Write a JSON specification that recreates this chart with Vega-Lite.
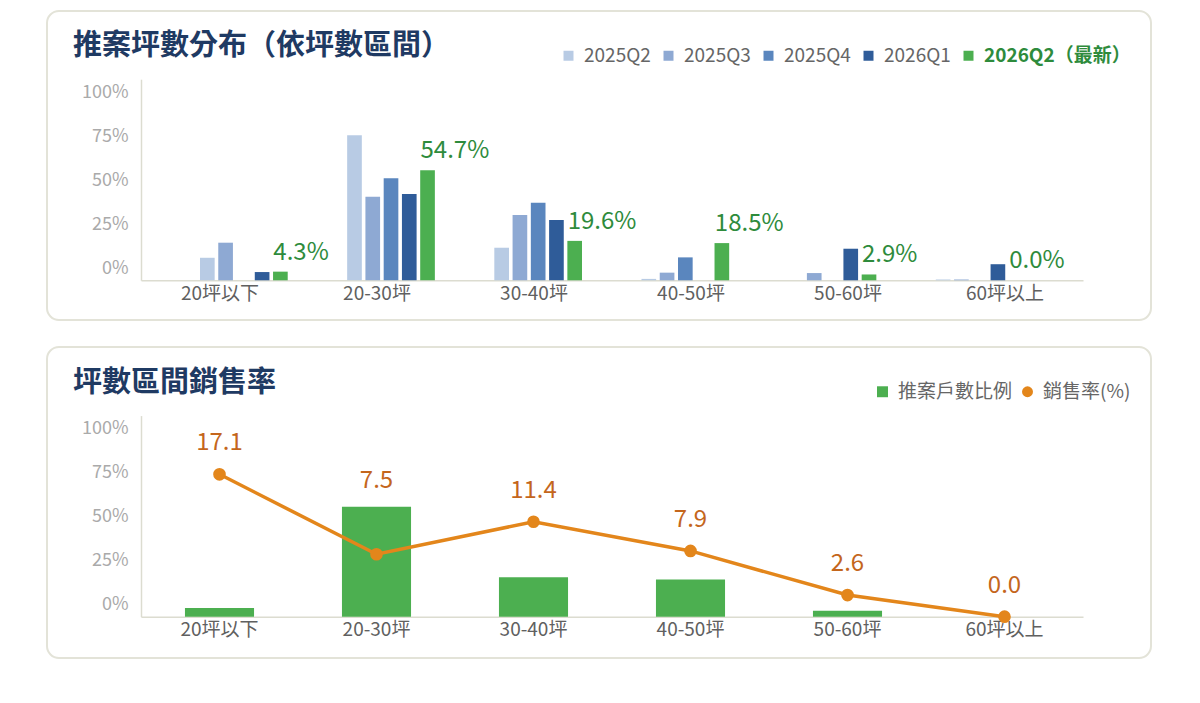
{
  "$schema": "https://vega.github.io/schema/vega-lite/v6.json",
  "background": "white",
  "padding": {"left": 46, "top": 10, "right": 0, "bottom": 0},
  "spacing": 25,
  "config": {
    "font": "Noto Sans CJK TC",
    "view": {"stroke": "#e3e3d8", "strokeWidth": 2, "cornerRadius": 12, "fill": "white"}
  },
  "resolve": {"scale": {"color": "independent"}, "legend": {"color": "independent"}},
  "datasets": {
    "dist": [
      {"cat": "20坪以下", "series": "2025Q2", "value": 0.112},
      {"cat": "20坪以下", "series": "2025Q3", "value": 0.187},
      {"cat": "20坪以下", "series": "2025Q4", "value": 0.0},
      {"cat": "20坪以下", "series": "2026Q1", "value": 0.041},
      {"cat": "20坪以下", "series": "2026Q2（最新）", "value": 0.043},
      {"cat": "20-30坪", "series": "2025Q2", "value": 0.721},
      {"cat": "20-30坪", "series": "2025Q3", "value": 0.416},
      {"cat": "20-30坪", "series": "2025Q4", "value": 0.507},
      {"cat": "20-30坪", "series": "2026Q1", "value": 0.429},
      {"cat": "20-30坪", "series": "2026Q2（最新）", "value": 0.547},
      {"cat": "30-40坪", "series": "2025Q2", "value": 0.162},
      {"cat": "30-40坪", "series": "2025Q3", "value": 0.325},
      {"cat": "30-40坪", "series": "2025Q4", "value": 0.386},
      {"cat": "30-40坪", "series": "2026Q1", "value": 0.300},
      {"cat": "30-40坪", "series": "2026Q2（最新）", "value": 0.196},
      {"cat": "40-50坪", "series": "2025Q2", "value": 0.007},
      {"cat": "40-50坪", "series": "2025Q3", "value": 0.038},
      {"cat": "40-50坪", "series": "2025Q4", "value": 0.114},
      {"cat": "40-50坪", "series": "2026Q1", "value": 0.0},
      {"cat": "40-50坪", "series": "2026Q2（最新）", "value": 0.185},
      {"cat": "50-60坪", "series": "2025Q2", "value": 0.0},
      {"cat": "50-60坪", "series": "2025Q3", "value": 0.036},
      {"cat": "50-60坪", "series": "2025Q4", "value": 0.0},
      {"cat": "50-60坪", "series": "2026Q1", "value": 0.157},
      {"cat": "50-60坪", "series": "2026Q2（最新）", "value": 0.029},
      {"cat": "60坪以上", "series": "2025Q2", "value": 0.004},
      {"cat": "60坪以上", "series": "2025Q3", "value": 0.004},
      {"cat": "60坪以上", "series": "2025Q4", "value": 0.0},
      {"cat": "60坪以上", "series": "2026Q1", "value": 0.080},
      {"cat": "60坪以上", "series": "2026Q2（最新）", "value": 0.0}
    ],
    "sales": [
      {"cat": "20坪以下", "share": 0.043, "rate": 17.1},
      {"cat": "20-30坪", "share": 0.547, "rate": 7.5},
      {"cat": "30-40坪", "share": 0.196, "rate": 11.4},
      {"cat": "40-50坪", "share": 0.185, "rate": 7.9},
      {"cat": "50-60坪", "share": 0.029, "rate": 2.6},
      {"cat": "60坪以上", "share": 0.0, "rate": 0.0}
    ]
  },
  "vconcat": [
    {
      "width": 1104,
      "height": 309,
      "title": {"text": "推案坪數分布（依坪數區間）", "anchor": "start", "frame": "group", "offset": -50, "dx": 26, "fontSize": 29, "fontWeight": "bold", "color": "#1f3a63"},
      "data": {"name": "dist"},
      "layer": [
        {
          "mark": {"type": "point", "opacity": 0},
          "encoding": {
            "x": {"field": "cat", "type": "nominal", "sort": null,
              "scale": {"domain": ["20坪以下", "20-30坪", "30-40坪", "40-50坪", "50-60坪", "60坪以上"], "range": [94, 1036], "paddingInner": 0, "paddingOuter": 0},
              "axis": {"orient": "bottom", "offset": -39.7, "title": null, "labelAngle": 0, "ticks": false, "domainColor": "#dcdcd0", "domainWidth": 1.5, "labelColor": "#606060", "labelFontSize": 19, "labelPadding": 4}},
            "y": {"field": "value", "type": "quantitative",
              "scale": {"domain": [0, 1], "range": [269.3, 68.2], "nice": false, "zero": true},
              "axis": {"title": null, "offset": -94, "values": [0.06, 0.279, 0.498, 0.716, 0.935], "labelExpr": "round((datum.value-0.06)/0.21875)*25 + '%'", "ticks": false, "grid": false, "domainColor": "#dcdcd0", "domainWidth": 1.5, "labelColor": "#aaaaaa", "labelFontSize": 18, "labelPadding": 13}}
          }
        },
        {
          "layer": [
            {
              "mark": {"type": "bar"},
              "encoding": {
                "x": {"field": "cat", "type": "nominal", "sort": null,
                  "scale": {"domain": ["20坪以下", "20-30坪", "30-40坪", "40-50坪", "50-60坪", "60坪以上"], "range": [153, 976.5], "paddingInner": 0.404, "paddingOuter": 0},
                  "axis": null},
                "xOffset": {"field": "series", "type": "nominal", "sort": null,
                  "scale": {"domain": ["2025Q2", "2025Q3", "2025Q4", "2026Q1", "2026Q2（最新）"], "paddingInner": 0.197, "paddingOuter": 0}},
                "y": {"field": "value", "type": "quantitative"},
                "color": {"field": "series", "type": "nominal", "sort": null,
                  "scale": {"domain": ["2025Q2", "2025Q3", "2025Q4", "2026Q1", "2026Q2（最新）"], "range": ["#b8cbe4", "#8ea9d3", "#5a86be", "#2f5c99", "#4caf50"]},
                  "legend": {"orient": "none", "legendX": 512, "legendY": 35, "direction": "horizontal", "title": null, "symbolType": "square", "symbolSize": 100, "symbolStrokeWidth": 0, "labelFontSize": 19, "labelColor": {"expr": "datum.label === '2026Q2（最新）' ? '#2e8b3c' : '#666666'"}, "labelFontWeight": {"expr": "datum.label === '2026Q2（最新）' ? 'bold' : 'normal'"}, "columnPadding": 8, "labelOffset": 6, "padding": 0}}
              }
            },
            {
              "transform": [{"filter": "datum.series === '2026Q2（最新）'"}],
              "mark": {"type": "text", "align": "left", "baseline": "alphabetic", "dx": -7, "dy": -12, "fontSize": 24, "color": "#2e8b3c"},
              "encoding": {
                "x": {"field": "cat", "type": "nominal", "sort": null, "axis": null},
                "xOffset": {"field": "series", "type": "nominal", "sort": null},
                "y": {"field": "value", "type": "quantitative"},
                "text": {"field": "value", "type": "quantitative", "format": ".1%"}
              }
            }
          ]
        }
      ],
      "resolve": {"scale": {"x": "independent"}}
    },
    {
      "width": 1104,
      "height": 311,
      "title": {"text": "坪數區間銷售率", "anchor": "start", "frame": "group", "offset": -51, "dx": 26, "fontSize": 29, "fontWeight": "bold", "color": "#1f3a63"},
      "data": {"name": "sales"},
      "layer": [
        {
          "mark": {"type": "bar"},
          "encoding": {
            "x": {"field": "cat", "type": "nominal", "sort": null,
              "scale": {"domain": ["20坪以下", "20-30坪", "30-40坪", "40-50坪", "50-60坪", "60坪以上"], "range": [94, 1036], "paddingInner": 0.56, "paddingOuter": 0.28},
              "axis": {"orient": "bottom", "offset": -41.3, "title": null, "labelAngle": 0, "ticks": false, "domainColor": "#dcdcd0", "domainWidth": 1.5, "labelColor": "#606060", "labelFontSize": 19, "labelPadding": 4}},
            "y": {"field": "share", "type": "quantitative",
              "scale": {"domain": [0, 1], "range": [269.7, 68.6], "nice": false, "zero": true},
              "axis": {"title": null, "offset": -94, "values": [0.06, 0.279, 0.498, 0.716, 0.935], "labelExpr": "round((datum.value-0.06)/0.21875)*25 + '%'", "ticks": false, "grid": false, "domainColor": "#dcdcd0", "domainWidth": 1.5, "labelColor": "#aaaaaa", "labelFontSize": 18, "labelPadding": 13}},
            "color": {"datum": "推案戶數比例", "type": "nominal",
              "scale": {"domain": ["推案戶數比例", "銷售率(%)"], "range": ["#4caf50", "#e3861b"]},
              "legend": {"orient": "none", "legendX": 826, "legendY": 35, "direction": "horizontal", "title": null, "symbolType": {"expr": "datum.label === '銷售率(%)' ? 'circle' : 'square'"}, "symbolSize": 120, "symbolStrokeWidth": 0, "labelFontSize": 19, "labelColor": "#666666", "columnPadding": 5, "labelOffset": 6, "padding": 0}}
          }
        },
        {
          "layer": [
            {
              "mark": {"type": "line", "strokeWidth": 3.5},
              "encoding": {
                "x": {"field": "cat", "type": "nominal", "sort": null},
                "y": {"field": "rate", "type": "quantitative", "scale": {"domain": [0, 24.15], "range": [269.7, 68.6], "nice": false, "zero": true}, "axis": null},
                "color": {"datum": "銷售率(%)", "type": "nominal"}
              }
            },
            {
              "mark": {"type": "point", "filled": true, "size": 160, "opacity": 1},
              "encoding": {
                "x": {"field": "cat", "type": "nominal", "sort": null},
                "y": {"field": "rate", "type": "quantitative", "axis": null},
                "color": {"datum": "銷售率(%)", "type": "nominal"}
              }
            },
            {
              "transform": [{"calculate": "max(datum.rate, datum.share*24.15-0.6)", "as": "ly"}],
              "mark": {"type": "text", "baseline": "alphabetic", "dy": -24, "fontSize": 24, "color": "#c4661c"},
              "encoding": {
                "x": {"field": "cat", "type": "nominal", "sort": null},
                "y": {"field": "ly", "type": "quantitative", "axis": null},
                "text": {"field": "rate", "type": "quantitative", "format": ".1f"}
              }
            }
          ]
        }
      ],
      "resolve": {"scale": {"y": "independent"}}
    }
  ]
}
